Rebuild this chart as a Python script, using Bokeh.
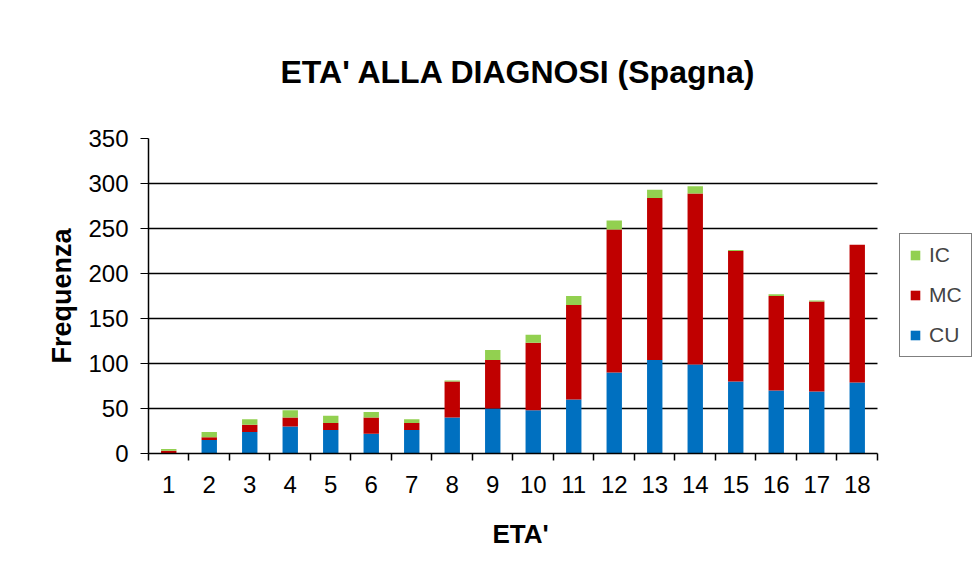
from bokeh.plotting import figure
from bokeh.models import ColumnDataSource, FixedTicker, Legend, LegendItem, Range1d, Title
from bokeh.embed import file_html
from bokeh.resources import INLINE

ages = list(range(1, 19))
cu = [0, 15, 24, 30, 26, 22, 26, 40, 50, 48, 60, 90, 104, 99, 80, 70, 69, 79]
mc = [3, 3, 8, 10, 8, 18, 8, 40, 54, 75, 105, 159, 180, 190, 145, 105, 100, 153]
ic = [2, 6, 6, 8, 8, 6, 4, 1, 11, 9, 10, 10, 9, 8, 1, 2, 1, 0]
y_ticks = [0, 50, 100, 150, 200, 250, 300, 350]
grid_vals = [50, 100, 150, 200, 250, 300]

colors = ["#0070C0", "#C00000", "#92D050"]
FONT = "Liberation Sans"

src = ColumnDataSource(dict(x=ages, CU=cu, MC=mc, IC=ic))

x_lo, x_hi = 0.5, 18.5
p = figure(width=972, height=575, output_backend="svg", toolbar_location=None,
           x_range=Range1d(x_lo, 20.846), y_range=Range1d(0, 350),
           min_border_left=148, min_border_right=0, min_border_top=138, min_border_bottom=122)

p.segment(x0=[x_lo] * len(grid_vals), x1=[x_hi] * len(grid_vals), y0=grid_vals, y1=grid_vals,
          line_color="black", line_width=1.5)

rs = p.vbar_stack(["CU", "MC", "IC"], x="x", width=0.38, color=colors, source=src, line_width=0)

p.add_layout(Title(text="ETA' ALLA DIAGNOSI (Spagna)", text_font=FONT, text_font_size="32px",
                   text_font_style="bold", align="left", offset=132, text_color="#000000",
                   vertical_align="top", standoff=94), "above")

p.outline_line_color = None
p.xgrid.grid_line_color = None
p.ygrid.grid_line_color = None

xa = p.xaxis[0]
xa.bounds = (x_lo, x_hi)
xa.ticker = FixedTicker(ticks=ages, minor_ticks=[i + 0.5 for i in range(0, 19)])
xa.major_tick_line_color = None
xa.minor_tick_line_color = "black"
xa.minor_tick_line_width = 1.5
xa.minor_tick_out = 7
xa.minor_tick_in = 0
xa.axis_line_color = "black"
xa.axis_line_width = 1.5
xa.major_label_text_font = FONT
xa.major_label_text_font_size = "24px"
xa.major_label_text_color = "black"
xa.major_label_standoff = 15

p.add_layout(Title(text="ETA'", text_font=FONT, text_font_size="26px", text_font_style="bold",
                   align="left", offset=344, text_color="#000000", standoff=42), "below")

ya = p.yaxis[0]
ya.ticker = FixedTicker(ticks=y_ticks)
ya.major_tick_line_color = "black"
ya.major_tick_out = 8
ya.major_tick_in = 0
ya.minor_tick_line_color = None
ya.axis_line_color = "black"
ya.axis_line_width = 1.5
ya.major_label_text_font = FONT
ya.major_label_text_font_size = "24px"
ya.major_label_text_color = "black"
ya.major_label_standoff = 12
ya.axis_label = "Frequenza"
ya.axis_label_text_font = FONT
ya.axis_label_text_font_size = "27px"
ya.axis_label_text_font_style = "bold"
ya.axis_label_standoff = 8
ya.axis_label_text_color = "black"

legend = Legend(items=[LegendItem(label="IC", renderers=[rs[2]]),
                       LegendItem(label="MC", renderers=[rs[1]]),
                       LegendItem(label="CU", renderers=[rs[0]])],
                location=(751, 96), glyph_width=12, glyph_height=12,
                label_text_font=FONT, label_text_font_size="21px",
                spacing=16, padding=9, margin=0,
                border_line_color="black", border_line_width=1.5,
                label_standoff=8)
p.add_layout(legend, "center")

open("out.html", "w").write(file_html(p, INLINE))
